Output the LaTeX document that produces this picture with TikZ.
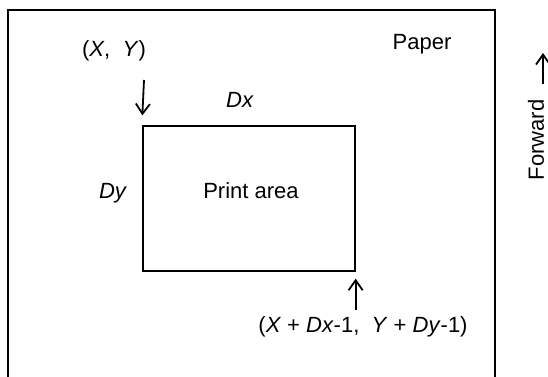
\documentclass[tikz,border=0pt]{standalone}
\usepackage{fontspec}
\setmainfont{Liberation Sans}
\usetikzlibrary{arrows.meta,positioning}
\tikzset{
    every picture/.style={line width=0.75pt},
    lbl/.style={font=\fontsize{22}{26}\selectfont, inner sep=0pt},
    feedarrow/.style={line width=1.8pt, -{Straight Barb[length=10pt,width=14pt]}},
}

\begin{document}
\begin{tikzpicture}[x=1pt,y=-1pt]
    \useasboundingbox (0,0) rectangle (548,376);
    \clip (0,0) rectangle (548,376);
    % Paper sheet (runs off the bottom)
    \draw[line width=2pt] (8,400) -- (8,10) -- (495,10) -- (495,400);
    \node[lbl] (paper) at (422,44) {Paper};

    % Print area
    \node[draw, line width=1.3pt, minimum width=212pt, minimum height=145pt,
          inner sep=0pt] (area) at (249,198.5) {};
    \node[lbl] (areatxt) at (251,191) {Print area};
    \node[lbl] (dx) at (240,100) {\textit{Dx}};
    \node[lbl] (dy) at (113,193) {\textit{Dy}};

    % Start corner
    \node[lbl] (start) at (114,51) {(\textit{X},~ \textit{Y})};
    \coordinate (starttail) at (144,80);
    \draw[feedarrow] (starttail) -- ([yshift=10pt]area.north west);

    % End corner
    \node[lbl] (end) at (363,327) {(\textit{X} + \textit{Dx}-1,~ \textit{Y} + \textit{Dy}-1)};
    \draw[feedarrow] (end.north -| area.south east) ++(0,-6) coordinate (endtail)
        -- ([yshift=-7pt]area.south east);

    % Feed direction
    \node[lbl, rotate=90] (fwd) at (536,140) {Forward};
    \coordinate (fwdtail) at (543,84);
    \coordinate (fwdhead) at (543,53);
    \draw[feedarrow] (fwdtail) -- (fwdhead);
\end{tikzpicture}
\end{document}
